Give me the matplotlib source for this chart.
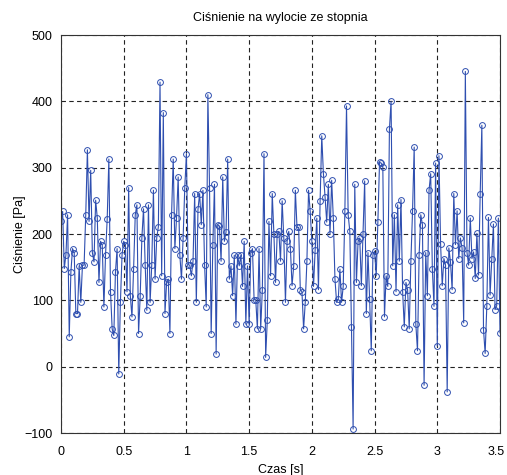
import numpy as np
import matplotlib
matplotlib.use("Agg")
import matplotlib.pyplot as plt
import matplotlib.transforms as mtransforms

plt.rcParams['font.family'] = ['Liberation Sans', 'DejaVu Sans']

# Pressure samples [Pa], in time order
pressure = [
    219, 234, 148, 169, 229, 45, 143, 178, 172, 80, 80, 152, 97, 153, 153, 229,
    327, 219, 296, 172, 158, 251, 224, 127, 189, 183, 90, 169, 223, 313, 113, 57,
    47, 143, 178, -11, 97, 169, 189, 184, 113, 270, 107, 75, 148, 229,
    244, 50, 107, 194, 238, 154, 85, 244, 97, 154, 266, 132, 194, 211, 429, 137,
    383, 80, 127, 132, 50, 229, 313, 178, 224, 286, 169, 132, 194, 270, 321, 154,
    153, 137, 159, 261, 97, 237, 261, 214, 266, 154, 90, 410, 270, 50,
    183, 275, 19, 214, 212, 159, 286, 189, 203, 313, 132, 152, 107, 168, 64, 169,
    152, 168, 121, 189, 64, 152, 64, 172, 178, 101, 101, 57, 178, 57, 116, 321,
    14, 70, 219, 137, 261, 200, 127, 200, 204, 159, 250, 194, 97,
    189, 204, 178, 122, 152, 266, 210, 210, 116, 113, 57, 97, 159, 266, 234, 189,
    121, 176, 224, 116, 250, 348, 291, 256, 218, 275, 200, 281, 224, 132, 97, 102,
    147, 97, 121, 234, 393, 229, 204, 60, -94, 275, 127, 189,
    194, 122, 200, 280, 80, 172, 102, 24, 169, 174, 137, 218, 308, 307, 301, 75,
    137, 121, 358, 400, 152, 229, 113, 244, 159, 252, 113, 60, 127, 116, 57, 159,
    234, 331, 64, 24, 169, 229, 214, -28, 172, 107, 266, 291,
    148, 91, 307, 31, 318, 185, 122, 163, 153, -38, 179, 158, 116, 261, 184, 235,
    163, 194, 179, 66, 445, 172, 153, 224, 163, 173, 133, 201, 138, 261, 364, 56,
    20, 91, 225, 108, 163, 215, 86, 92, 224, 51,
]

t_start, t_end = 0.0, 3.5
x_ticks = [0, 0.5, 1, 1.5, 2, 2.5, 3, 3.5]
x_tick_labels = ['0', '0.5', '1', '1.5', '2', '2.5', '3', '3.5']
y_ticks = [-100, 0, 100, 200, 300, 400, 500]

time = np.linspace(t_start, t_end, len(pressure))

fig = plt.figure(figsize=(5.07, 4.75), dpi=100)
ax = fig.add_axes([0.1203, 0.0884, 0.8659, 0.8379])

blue = '#2f4fb0'
ax.plot(time, pressure, color=blue, linewidth=0.8,
        marker='o', markersize=4.2, markerfacecolor='none',
        markeredgecolor=blue, markeredgewidth=0.7)

ax.set_xlim(t_start, t_end)
ax.set_ylim(-100, 500)
ax.set_xticks(x_ticks)
ax.set_xticklabels(x_tick_labels)
ax.set_yticks(y_ticks)

ax.grid(True, color='#222222', linestyle=(0, (4, 3)), linewidth=0.8)
ax.set_axisbelow(True)
for s in ax.spines.values():
    s.set_color('#333333')
    s.set_linewidth(0.8)
ax.tick_params(axis='both', direction='in', length=0, labelsize=9,
               top=True, right=True)
ax.tick_params(axis='x', pad=9)
ax.tick_params(axis='y', pad=6)

# nudge the last x tick label inward so it stays inside the figure
last = ax.get_xticklabels()[-1]
last.set_transform(last.get_transform() +
                   mtransforms.ScaledTranslation(-4 / 100, 0, fig.dpi_scale_trans))

ax.set_title('Ciśnienie na wylocie ze stopnia', fontsize=9, pad=10)
ax.set_xlabel('Czas [s]', fontsize=9, labelpad=5)
ax.set_ylabel('Ciśnienie [Pa]', fontsize=9, labelpad=-1)

fig.savefig('out.png', dpi=100, facecolor='white')
